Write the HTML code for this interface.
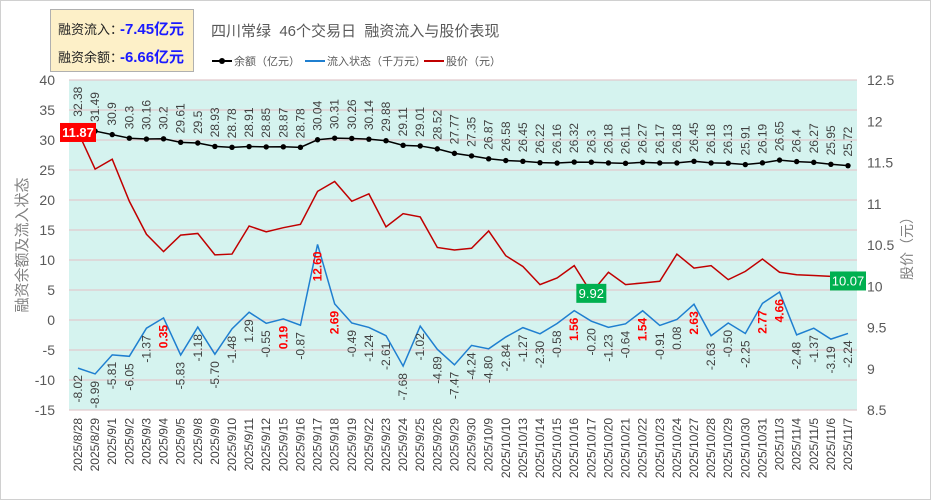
<!DOCTYPE html>
<html><head><meta charset="utf-8"><style>
html,body{margin:0;padding:0;background:#fff;}
body{width:931px;height:500px;overflow:hidden;font-family:"Liberation Sans","Noto Sans CJK SC",sans-serif;}
svg{display:block;}
</style></head><body>
<svg id="chart" width="931" height="500" xmlns="http://www.w3.org/2000/svg" font-family="Liberation Sans, Noto Sans CJK SC, sans-serif">
<rect x="0.5" y="0.5" width="930" height="499" fill="#fff" stroke="#d0d0d0"/>
<rect x="69" y="80" width="788" height="330" fill="#d5f3ef"/>
<g id="grid"></g>
<g id="series"></g>
<g id="labels"></g>
<rect x="50.5" y="9.5" width="143" height="62" fill="#fdf0c8" stroke="#b0b0b0"/>
<text x="58" y="34" font-size="13" fill="#222">融资流入：</text>
<text x="120" y="34" font-size="15" font-weight="bold" fill="#1a1aff" textLength="64">-7.45亿元</text>
<text x="58" y="62" font-size="13" fill="#222">融资余额：</text>
<text x="120" y="62" font-size="15" font-weight="bold" fill="#1a1aff" textLength="64">-6.66亿元</text>
<text x="211" y="36" font-size="15" fill="#595959" style="white-space:pre" xml:space="preserve">四川常绿  46个交易日  融资流入与股价表现</text>
<g>
<line x1="212" y1="61" x2="232" y2="61" stroke="#000" stroke-width="2"/><circle cx="222" cy="61" r="3" fill="#000"/>
<text x="234" y="65" font-size="11" fill="#595959">余额（亿元）</text>
<line x1="305" y1="61" x2="325" y2="61" stroke="#1f7fd0" stroke-width="2"/>
<text x="327" y="65" font-size="11" fill="#595959">流入状态（千万元）</text>
<line x1="424" y1="61" x2="444" y2="61" stroke="#c00000" stroke-width="2"/>
<text x="446" y="65" font-size="11" fill="#595959">股价（元）</text>
</g>
<text transform="translate(27,245) rotate(-90)" text-anchor="middle" font-size="15" fill="#808080">融资余额及流入状态</text>
<text transform="translate(912,245) rotate(-90)" text-anchor="middle" font-size="14" fill="#808080">股价（元）</text>
</svg>
<script>
const dates=["2025/8/28","2025/8/29","2025/9/1","2025/9/2","2025/9/3","2025/9/4","2025/9/5","2025/9/8","2025/9/9","2025/9/10","2025/9/11","2025/9/12","2025/9/15","2025/9/16","2025/9/17","2025/9/18","2025/9/19","2025/9/22","2025/9/23","2025/9/24","2025/9/25","2025/9/26","2025/9/29","2025/9/30","2025/10/9","2025/10/10","2025/10/13","2025/10/14","2025/10/15","2025/10/16","2025/10/17","2025/10/20","2025/10/21","2025/10/22","2025/10/23","2025/10/24","2025/10/27","2025/10/28","2025/10/29","2025/10/30","2025/10/31","2025/11/3","2025/11/4","2025/11/5","2025/11/6","2025/11/7"];
const balance=[32.38,31.49,30.9,30.3,30.16,30.2,29.61,29.5,28.93,28.78,28.91,28.85,28.87,28.78,30.04,30.31,30.26,30.14,29.88,29.11,29.01,28.52,27.77,27.35,26.87,26.58,26.45,26.22,26.16,26.32,26.3,26.18,26.11,26.27,26.17,26.18,26.45,26.18,26.13,25.91,26.19,26.65,26.4,26.27,25.95,25.72];
const flow=[-8.02,-8.99,-5.81,-6.05,-1.37,0.35,-5.83,-1.18,-5.70,-1.48,1.29,-0.55,0.19,-0.87,12.60,2.69,-0.49,-1.24,-2.61,-7.68,-1.02,-4.89,-7.47,-4.24,-4.80,-2.84,-1.27,-2.30,-0.58,1.56,-0.20,-1.23,-0.64,1.54,-0.91,0.08,2.63,-2.63,-0.50,-2.25,2.77,4.66,-2.48,-1.37,-3.19,-2.24];
const flowHighlight=[0,0,0,0,0,1,0,0,0,0,0,0,1,0,1,1,0,0,0,0,0,0,0,0,0,0,0,0,0,1,0,0,0,1,0,0,1,0,0,0,1,1,0,0,0,0];
const price=[11.87,11.42,11.54,11.03,10.63,10.42,10.62,10.64,10.38,10.39,10.73,10.66,10.71,10.75,11.15,11.27,11.03,11.12,10.72,10.88,10.84,10.47,10.44,10.46,10.67,10.37,10.24,10.02,10.10,10.25,9.92,10.17,10.02,10.04,10.06,10.39,10.22,10.25,10.08,10.18,10.33,10.17,10.14,10.13,10.12,10.07];
const leftTicks=[40,35,30,25,20,15,10,5,0,-5,-10,-15];
const rightTicks=[12.5,12,11.5,11,10.5,10,9.5,9,8.5];

const NS="http://www.w3.org/2000/svg";
const X0=78,X1=848,TOP=80,BOT=410,PL=69,PR=857;
function xAt(i){return X0+(X1-X0)*i/(dates.length-1);}
function yL(v){return TOP+(40-v)*(BOT-TOP)/55;}
function yR(v){return TOP+(12.5-v)*(BOT-TOP)/4;}
function mk(tag,attrs,parent,txt){const e=document.createElementNS(NS,tag);for(const k in attrs)e.setAttribute(k,attrs[k]);if(txt!==undefined)e.textContent=txt;parent.appendChild(e);return e;}
const grid=document.getElementById('grid'),ser=document.getElementById('series'),lab=document.getElementById('labels');

leftTicks.forEach(v=>{
  const y=yL(v);
  const l=mk('line',{x1:PL,x2:PR,y1:y,y2:y,stroke:'#e2c9cd','stroke-width':1.3},grid);
  
  
  const t=mk('text',{x:55,y:y+5,'text-anchor':'end','font-size':14,fill:'#595959'},grid,String(v));
  
  
});
rightTicks.forEach(v=>{
  const t=mk('text',{x:867,y:yR(v)+5,'font-size':14,fill:'#595959'},grid,String(v));
  
  
});
dates.forEach((d,i)=>{
  const x=xAt(i);
  const t=mk('text',{transform:`translate(${x+4},418) rotate(-90)`,'text-anchor':'end','font-size':12,fill:'#404040'},grid,d);
  
  
});

function poly(vals,yf,color,name){
  const p=mk('polyline',{points:vals.map((v,i)=>xAt(i)+','+yf(v)).join(' '),fill:'none',stroke:color,'stroke-width':1.5},ser);
  
  
}
poly(price,yR,'#c00000','price-line');
poly(flow,yL,'#1f7fd0','flow-line');
poly(balance,yL,'#000','balance-line');
balance.forEach((v,i)=>{
  const c=mk('circle',{cx:xAt(i),cy:yL(v),r:2.7,fill:'#000'},ser);
  
  
  const t=mk('text',{transform:`translate(${xAt(i)+4},${yL(v)-9}) rotate(-90)`,'font-size':12,fill:'#404040'},lab,String(v));
  
  
});
flow.forEach((v,i)=>{
  const hl=flowHighlight[i];
  const t=mk('text',{transform:`translate(${xAt(i)+4},${yL(v)+7}) rotate(-90)`,'text-anchor':'end','font-size':12,fill:hl?'#ff0000':'#404040','font-weight':hl?'bold':'normal'},lab,v.toFixed(2));
  
  
});
function priceTag(i,bg,w){
  const x=xAt(i),y=yR(price[i]);
  const g=mk('g',{},lab);
  
  
  mk('rect',{x:x-w/2,y:y-9,width:w,height:19,fill:bg},g);
  mk('text',{x:x,y:y+5,'text-anchor':'middle','font-size':13,fill:'#fff','font-weight':bg==='#ff0000'?'bold':'normal'},g,price[i].toFixed(2));
}
priceTag(0,'#ff0000',36);
priceTag(30,'#00b050',30);
priceTag(45,'#00b050',36);
</script>
</body></html>
